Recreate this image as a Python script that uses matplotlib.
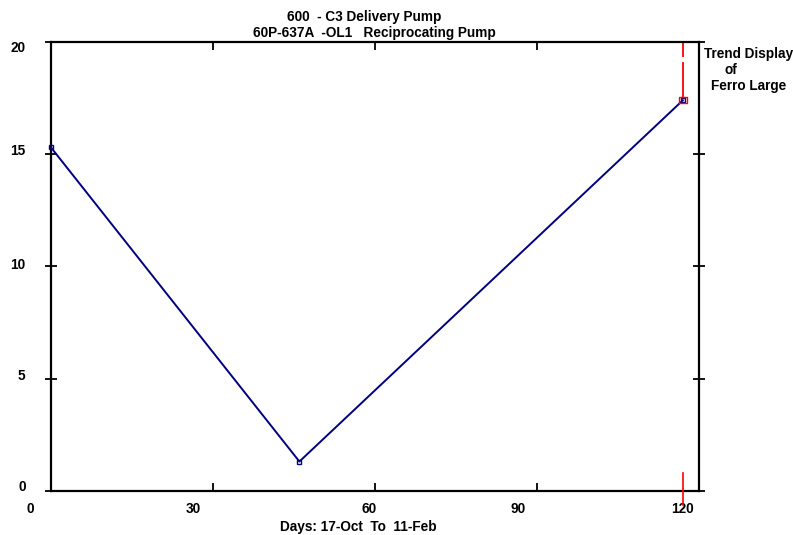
import matplotlib
matplotlib.use("Agg")
import matplotlib.pyplot as plt
from matplotlib.transforms import ScaledTranslation
from matplotlib.path import Path

plt.rcParams['font.family'] = ['Liberation Sans', 'DejaVu Sans']
plt.rcParams['font.weight'] = 'bold'

# ---- data ----
days = [0, 46, 117]
values = [15.3, 1.3, 17.4]
x_ticks = [0, 30, 60, 90, 120]
x_tick_labels = ['0', '30', '60', '90', '120']
y_ticks = [0, 5, 10, 15, 20]
y_tick_labels = ['0', '5', '10', '15', '20']
title_lines = ['600  - C3 Delivery Pump', '60P-637A  -OL1   Reciprocating Pump']
x_label = 'Days: 17-Oct  To  11-Feb'
side_lines = ['Trend Display', 'of', 'Ferro Large']

navy = '#000080'
red = '#ff0000'
FS = 9.8

fig = plt.figure(figsize=(7.93, 5.35), dpi=100)
ax = fig.add_axes([51/793, 1 - 490.7/535, (699-51)/793, (490.7-42)/535])
ax.set_xlim(0, 120)
ax.set_ylim(0, 20)

for s in ax.spines.values():
    s.set_linewidth(1.6)
    s.set_color('black')

# data line
ax.plot(days, values, color=navy, lw=1.4, marker='s', ms=3.2,
        mfc='none', mec=navy, mew=1.0, clip_on=False, zorder=3)

# red indicator at the last reading
rect = Path([(-1.6, -1), (1.6, -1), (1.6, 1), (-1.6, 1), (-1.6, -1)],
            [Path.MOVETO, Path.LINETO, Path.LINETO, Path.LINETO, Path.CLOSEPOLY])
ax.plot([days[-1]], [values[-1]], linestyle='none', marker=rect, ms=6,
        mfc='none', mec=red, mew=1.0, clip_on=False, zorder=4)
ax.plot([days[-1], days[-1]], [20, values[-1] + 0.12], color=red, lw=1.3,
        dashes=(8.3, 2.8, 22, 2.8), clip_on=False, zorder=2)
ax.plot([days[-1], days[-1]], [0.8, -0.65], color=red, lw=1.2,
        clip_on=False, zorder=5)

# ticks
ax.set_xticks(x_ticks, x_tick_labels)
ax.set_yticks(y_ticks, y_tick_labels)
ax.tick_params(axis='x', which='both', direction='in', length=6, width=1.3,
               top=True, bottom=True, labelsize=FS, pad=8)
ax.tick_params(axis='y', which='both', direction='inout', length=8.5, width=1.3,
               left=True, right=True, labelsize=FS, pad=14)

x_offsets_px = [-21, -20, -6, -19, -17]
for lab, dx in zip(ax.get_xticklabels(), x_offsets_px):
    lab.set_transform(lab.get_transform() + ScaledTranslation(dx/100, 0, fig.dpi_scale_trans))
y_offsets_px = [5, 4, 3, 5, -5]
for lab, dy in zip(ax.get_yticklabels(), y_offsets_px):
    lab.set_transform(lab.get_transform() + ScaledTranslation(0, dy/100, fig.dpi_scale_trans))

# titles
fig.text(364/793, 1 - 17/535, title_lines[0], ha='center', va='center',
         fontsize=FS, fontweight='bold')
fig.text(374.5/793, 1 - 33/535, title_lines[1], ha='center', va='center',
         fontsize=FS, fontweight='bold')
fig.text(358/793, 1 - 527/535, x_label, ha='center', va='center',
         fontsize=FS, fontweight='bold')

side_pos = [(749, 54), (731, 70), (749, 86)]
for t, (px, py) in zip(side_lines, side_pos):
    fig.text(px/793, 1 - py/535, t, ha='center', va='center',
             fontsize=FS, fontweight='bold')

fig.savefig('out.png', dpi=100)
